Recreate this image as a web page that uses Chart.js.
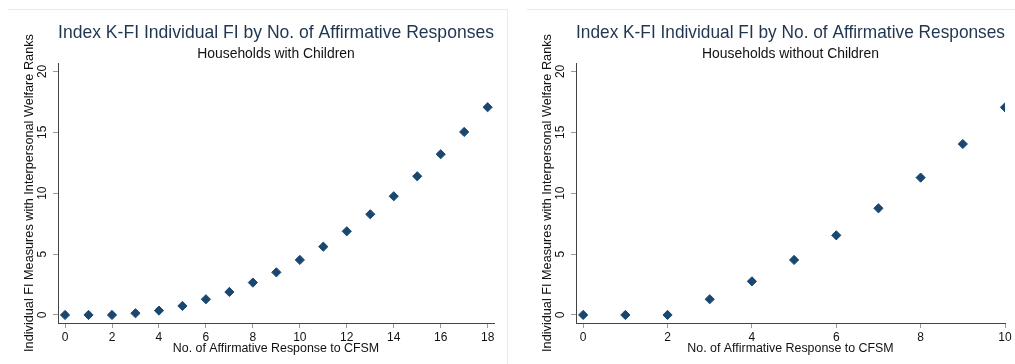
<!DOCTYPE html>
<html>
<head>
<meta charset="utf-8">
<script src="https://cdn.jsdelivr.net/npm/chart.js@4/dist/chart.umd.min.js"></script>
<style>
  html, body { margin: 0; padding: 0; background: #fff; width: 1015px; height: 364px; overflow: hidden; }
  .frame { position: absolute; background: #e9e9e9; }
  canvas { position: absolute; top: 0; }
</style>
</head>
<body>
<div class="frame" style="left:8px; top:9px; width:500px; height:1px;"></div>
<div class="frame" style="left:507px; top:9px; width:1px; height:355px;"></div>
<div class="frame" style="left:527px; top:9px; width:488px; height:1px;"></div>
<div style="position:absolute; left:0; top:0; width:510px; height:364px;"><canvas id="withKids"></canvas></div>
<div style="position:absolute; left:518px; top:0; width:497px; height:364px;"><canvas id="withoutKids"></canvas></div>
<script>
// Number of affirmative CFSM responses (x) and the Index K-FI individual FI measure (y)
const withChildrenX = [0, 1, 2, 3, 4, 5, 6, 7, 8, 9, 10, 11, 12, 13, 14, 15, 16, 17, 18];
const withChildrenY = [0, 0, 0, 0.14, 0.36, 0.74, 1.29, 1.89, 2.66, 3.5, 4.52, 5.61, 6.87, 8.27, 9.75, 11.39, 13.2, 15.03, 17.06];
const withoutChildrenX = [0, 1, 2, 3, 4, 5, 6, 7, 8, 9, 10];
const withoutChildrenY = [0, 0, 0, 1.29, 2.76, 4.52, 6.54, 8.76, 11.28, 14.04, 17.05];

const withChildrenTicks = [0, 2, 4, 6, 8, 10, 12, 14, 16, 18];
const withoutChildrenTicks = [0, 2, 4, 6, 8, 10];
const yTicks = [0, 5, 10, 15, 20];

const mainTitle = 'Index K-FI Individual FI by No. of Affirmative Responses';
const subtitles = ['Households with Children', 'Households without Children'];
const xTitle = 'No. of Affirmative Response to CFSM';
const yTitle = 'Individual FI Measures with Interpersonal Welfare Ranks';

const FONT = "'Liberation Sans', Arial, sans-serif";
const NAVY = '#1a476f';

function makeChart(id, xs, ys, xTicks, subtitle, xRange, padRight) {
  const pts = xs.map((x, i) => ({ x: x, y: ys[i] }));
  return new Chart(document.getElementById(id), {
    type: 'scatter',
    data: {
      datasets: [{
        data: pts,
        pointStyle: 'rectRot',
        pointRadius: 4.6,
        pointHoverRadius: 4.6,
        pointBackgroundColor: NAVY,
        pointBorderColor: NAVY,
        pointBorderWidth: 1
      }]
    },
    options: {
      responsive: true,
      maintainAspectRatio: false,
      animation: false,
      events: [],
      layout: { padding: { left: 0, right: padRight, top: 0, bottom: 0 } },
      plugins: {
        legend: { display: false },
        tooltip: { enabled: false },
        title: {
          display: true,
          text: mainTitle,
          fullSize: false,
          color: '#1f3550',
          font: { family: FONT, size: 17.7, weight: 'normal' },
          padding: { top: 22.4, bottom: 0 }
        },
        subtitle: {
          display: true,
          text: subtitle,
          fullSize: false,
          color: '#111',
          font: { family: FONT, size: 13.9, weight: 'normal' },
          padding: { top: 2.5, bottom: 0.2 }
        }
      },
      scales: {
        x: {
          type: 'linear',
          min: xRange[0],
          max: xRange[1],
          afterBuildTicks: s => { s.ticks = xTicks.map(v => ({ value: v })); },
          afterFit: s => { s.height = 41; },
          grid: { display: true, drawOnChartArea: false, drawTicks: true, tickLength: 5, tickColor: '#9a9a9a', lineWidth: 1 },
          border: { display: true, color: '#444', width: 1 },
          ticks: { color: '#111', font: { family: FONT, size: 12 }, padding: 2, maxRotation: 0, autoSkip: false },
          title: {
            display: true, text: xTitle, color: '#111',
            font: { family: FONT, size: 12.4 },
            padding: { top: 0, bottom: 8 }
          }
        },
        y: {
          type: 'linear',
          min: -0.66,
          max: 20.69,
          afterBuildTicks: s => { s.ticks = yTicks.map(v => ({ value: v })); },
          afterFit: s => { s.width = 58; },
          grid: { display: true, drawOnChartArea: false, drawTicks: true, tickLength: 5, tickColor: '#9a9a9a', lineWidth: 1 },
          border: { display: true, color: '#444', width: 1 },
          ticks: { color: '#111', font: { family: FONT, size: 12 }, padding: 4, minRotation: 90, maxRotation: 90, crossAlign: 'center', autoSkip: false },
          title: {
            display: true, text: yTitle, color: '#111',
            font: { family: FONT, size: 12.7 },
            padding: { top: 21.8, bottom: 0 }
          }
        }
      }
    }
  });
}

makeChart('withKids', withChildrenX, withChildrenY, withChildrenTicks, subtitles[0], [-0.3, 18.27], 16);
makeChart('withoutKids', withoutChildrenX, withoutChildrenY, withoutChildrenTicks, subtitles[1], [-0.17, 10], 10);
</script>
</body>
</html>
